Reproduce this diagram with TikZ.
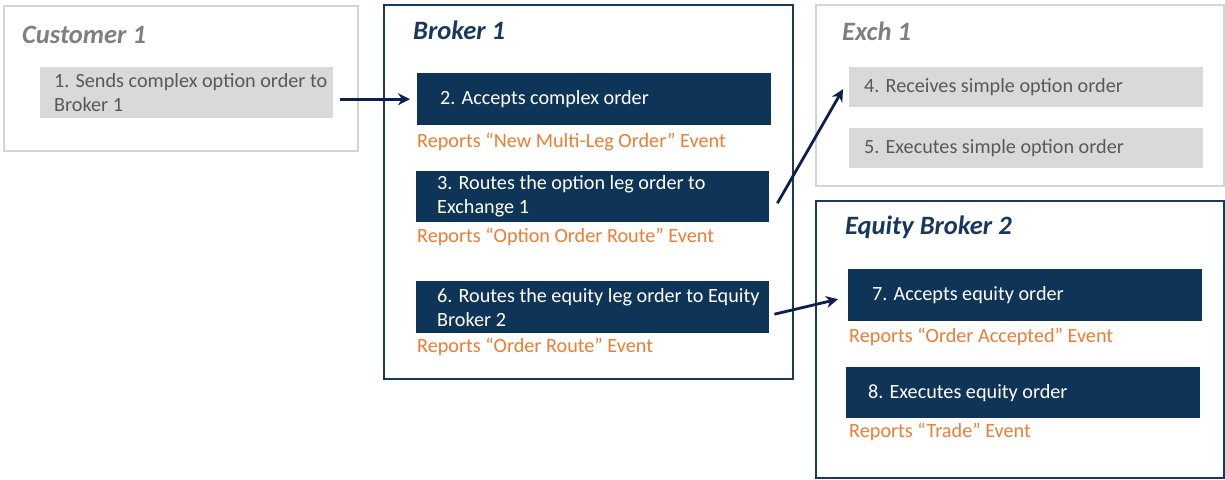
\documentclass[tikz,border=0pt]{standalone}
\usepackage{fontspec}
\setmainfont{Carlito}
\usetikzlibrary{arrows.meta,calc}
\definecolor{navy}{HTML}{0E3558}
\definecolor{navyline}{HTML}{1B3A5C}
\definecolor{arrowc}{HTML}{0D1F4D}
\definecolor{grayfill}{HTML}{D9D9D9}
\definecolor{grayline}{HTML}{D5D5D5}
\definecolor{graytext}{HTML}{595959}
\definecolor{graytitle}{HTML}{7F7F7F}
\definecolor{navytitle}{HTML}{17375E}
\definecolor{orangec}{HTML}{ED7D31}
\begin{document}
\begin{tikzpicture}[x=1pt,y=-1pt,
 panel/.style={draw, line width=2.4pt, anchor=north west, inner sep=0pt},
 graypanel/.style={panel, draw=grayline},
 navypanel/.style={panel, draw=navyline},
 stepnavy/.style={fill=navy, anchor=north west, inner sep=0pt},
 stepgray/.style={fill=grayfill, anchor=north west, inner sep=0pt},
 wtxt/.style={anchor=west, inner sep=0pt, align=left, text=white, font=\fontsize{20.2}{24}\selectfont},
 gtxt/.style={wtxt, text=graytext},
 otxt/.style={anchor=base west, inner sep=0pt, text=orangec, font=\fontsize{20.2}{24}\selectfont},
 ttl/.style={anchor=base west, inner sep=0pt, font=\fontsize{26.5}{30}\selectfont\bfseries\itshape},
 arr/.style={draw=arrowc, line width=2.8pt, -{Stealth[length=12pt,width=12pt]}}]
\useasboundingbox (0,0) rectangle (1225,479);

% panels
\node[graypanel, minimum width=354pt, minimum height=145pt] (cust) at (3,5) {};
\node[navypanel, minimum width=409pt, minimum height=374pt] (brk) at (383,4) {};
\node[graypanel, minimum width=408pt, minimum height=181pt] (exch) at (815,4) {};
\node[navypanel, minimum width=408pt, minimum height=277pt] (eqb) at (815,200) {};

% titles
\node[ttl, text=graytitle] (tcust) at (22,43) {Customer 1};
\node[ttl, text=navytitle] (tbrk) at (413,39) {Broker 1};
\node[ttl, text=graytitle] (texch) at (842,40) {Exch 1};
\node[ttl, text=navytitle] (teqb) at (845,234) {Equity Broker 2};

% step boxes
\node[stepgray, minimum width=293pt, minimum height=51pt] (b1) at (40,67) {};
\node[stepnavy, minimum width=354pt, minimum height=52pt] (b2) at (417,73) {};
\node[stepnavy, minimum width=353pt, minimum height=51pt] (b3) at (416,171) {};
\node[stepnavy, minimum width=353pt, minimum height=52pt] (b6) at (416,281) {};
\node[stepgray, minimum width=354pt, minimum height=40pt] (b4) at (849,67) {};
\node[stepgray, minimum width=354pt, minimum height=40pt] (b5) at (849,128) {};
\node[stepnavy, minimum width=354pt, minimum height=52pt] (b7) at (848,269) {};
\node[stepnavy, minimum width=354pt, minimum height=51pt] (b8) at (846,367) {};

% step texts
\node[gtxt] (t1) at ([xshift=14pt]b1.west) {1. Sends complex option order to\\Broker 1};
\node[wtxt] (t2) at ([xshift=23pt]b2.west) {2. Accepts complex order};
\node[wtxt] (t3) at ([xshift=21pt]b3.west) {3. Routes the option leg order to\\Exchange 1};
\node[wtxt] (t6) at ([xshift=21pt]b6.west) {6. Routes the equity leg order to Equity\\Broker 2};
\node[gtxt] (t4) at ([xshift=15pt]b4.west) {4. Receives simple option order};
\node[gtxt] (t5) at ([xshift=15pt]b5.west) {5. Executes simple option order};
\node[wtxt] (t7) at ([xshift=24pt]b7.west) {7. Accepts equity order};
\node[wtxt] (t8) at ([xshift=22pt]b8.west) {8. Executes equity order};

% event labels
\node[otxt] (e2) at (417,147) {Reports “New Multi-Leg Order” Event};
\node[otxt] (e3) at (417,242) {Reports “Option Order Route” Event};
\node[otxt] (e6) at (417,352) {Reports “Order Route” Event};
\node[otxt] (e7) at (849,342) {Reports “Order Accepted” Event};
\node[otxt] (e8) at (849,437) {Reports “Trade” Event};

% connectors
\draw[arr] ([xshift=7pt]b1.east |- b2.west) -- ([xshift=-7pt]b2.west);
\draw[arr] ($(b3.east)+(8,6.5)$) -- ($(b4.west)+(-6,2)$);
\draw[arr] ($(b6.east)+(5,7)$) -- ($(b7.west)+(-10,4)$);
\end{tikzpicture}
\end{document}
